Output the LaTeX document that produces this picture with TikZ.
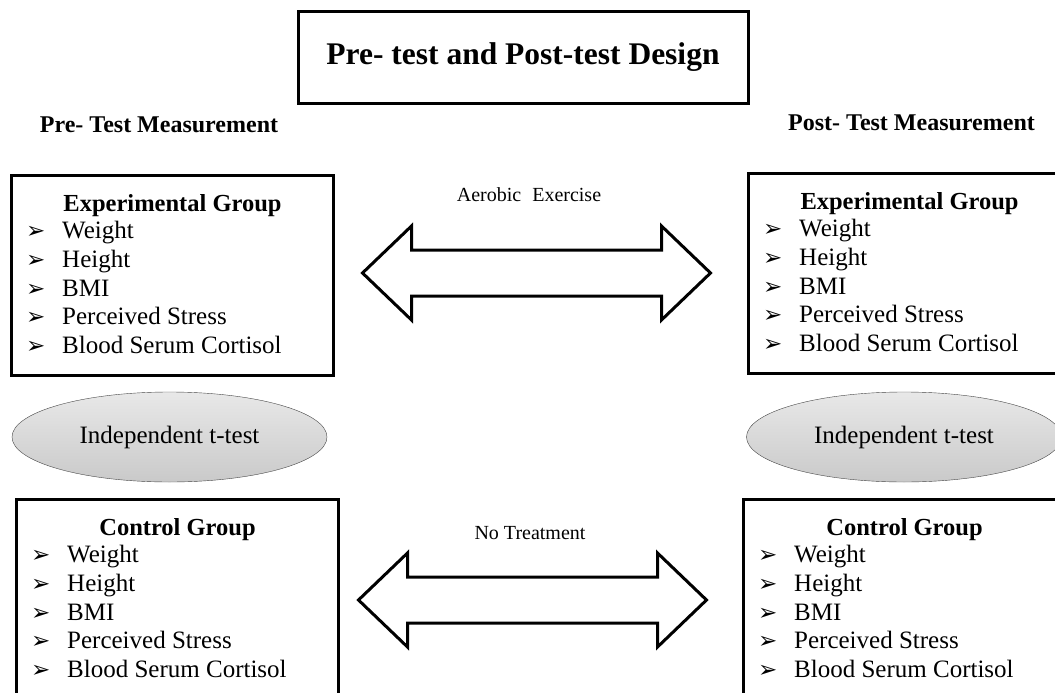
\documentclass[tikz,border=0pt]{standalone}
\usepackage{fontspec}
\setmainfont{Liberation Serif}
\newfontfamily\dingfont{DejaVu Sans}
\usepackage{tikz}
\usetikzlibrary{positioning, shapes.geometric}

\newcommand{\blt}{\makebox[36pt][l]{\dingfont\fontsize{23}{23}\selectfont ➢}}

\tikzset{
  groupbox/.style={draw, line width=3pt, minimum width=322pt, minimum height=200pt, anchor=north west, inner sep=0pt},
  grouphead/.style={font=\fontsize{24.5}{29}\selectfont\bfseries, anchor=base, inner sep=0pt},
  groupitem/.style={font=\fontsize{25}{29}\selectfont, anchor=base west, inner sep=0pt},
  ttest/.style={ellipse, draw=gray!55!black, top color=gray!18, bottom color=gray!42, minimum width=315pt, minimum height=90pt, inner sep=0pt, font=\fontsize{25}{29}\selectfont},
  measure/.style={font=\fontsize{24}{29}\selectfont\bfseries, anchor=base},
  treat/.style={font=\fontsize{20}{24}\selectfont},
  dblarrow/.pic={
    \draw[line width=3pt, line join=miter, fill=white]
      (-174,0) -- (-125,-47) -- (-125,-23) -- (125,-23) -- (125,-47) -- (174,0)
      -- (125,47) -- (125,23) -- (-125,23) -- (-125,47) -- cycle;
  }
}

\begin{document}
\begin{tikzpicture}
	[x=1pt, y=-1pt]
   \useasboundingbox (0,0) rectangle (1055,693);
   \clip (0,0) rectangle (1055,693);
   % title
   \node[draw, line width=3pt, minimum width=450pt, minimum height=91pt, font=\fontsize{31.5}{36}\selectfont\bfseries] (title) at (523,57.5) {Pre- test and Post-test Design};
   \node[measure] (pre)  at (159,132) {Pre- Test Measurement};
   \node[measure] (post) at (911.5,130) {Post- Test Measurement};
   % groups
   \node[groupbox] (preE)  at (10,174)  {};
   \node[groupbox] (postE) at (747,172) {};
   \node[groupbox] (preC)  at (15,498)  {};
   \node[groupbox] (postC) at (742,498) {};
   \foreach \bx/\hd in {preE/Experimental Group, postE/Experimental Group, preC/Control Group, postC/Control Group} {
     \node[grouphead] (\bx-head) at ([yshift=-37pt]\bx.north) {\hd};
     \foreach \itm [count=\i] in {Weight, Height, BMI, Perceived Stress, Blood Serum Cortisol}
       \node[groupitem] (\bx-\i) at ([xshift=16pt, yshift={-64.5pt-(\i-1)*28.8pt}]\bx.north west) {\blt\itm};
   }
   % tests
   \node[ttest] (preT)  at (169.5,437) {Independent t-test};
   \node[ttest] (postT) at (904,437)   {Independent t-test};
   % treatments
   \pic at (536.5,273) {dblarrow};
   \pic at (532.5,600) {dblarrow};
   \node[treat] (aero) at (529,195) {Aerobic\hspace{0.55em}Exercise};
   \node[treat] (none) at (530,533) {No Treatment};
\end{tikzpicture}
\end{document}
